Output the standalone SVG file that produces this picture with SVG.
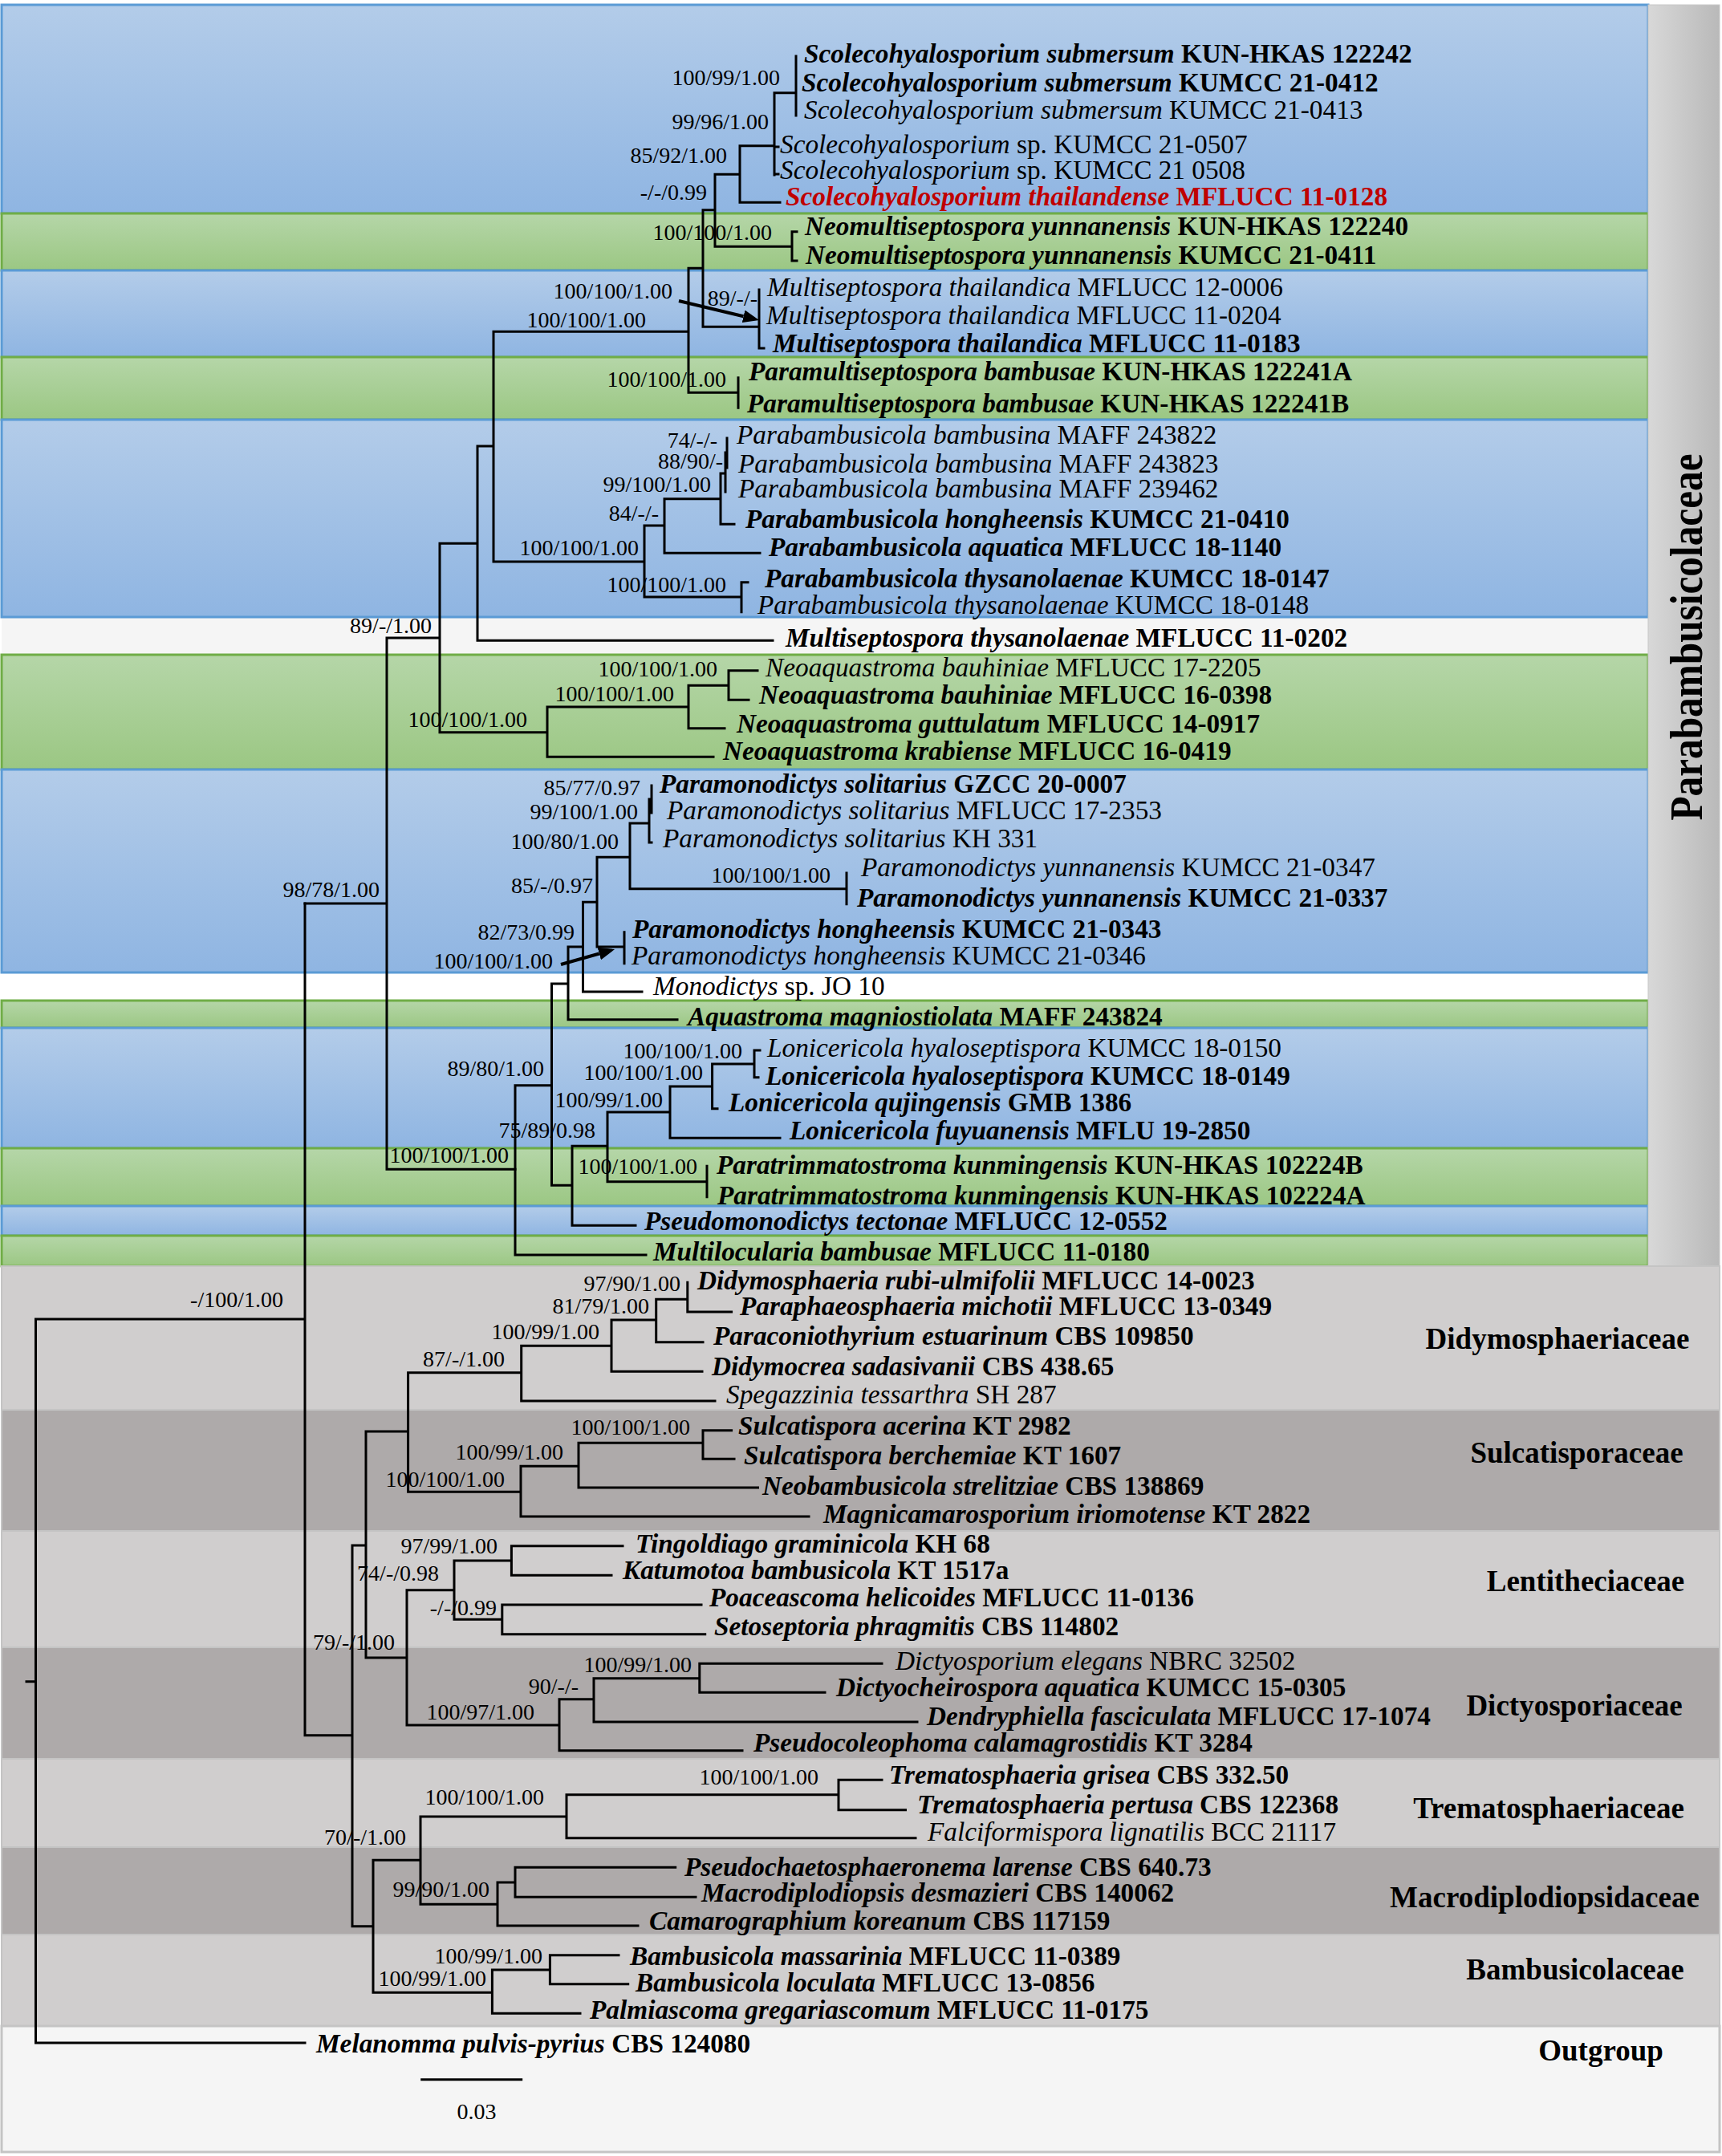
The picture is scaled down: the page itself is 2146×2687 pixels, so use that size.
<svg xmlns="http://www.w3.org/2000/svg" width="2146" height="2687" viewBox="0 0 2146 2687">
<style>
.tx{font-family:"Liberation Serif","Times New Roman",serif;font-size:33.3px;fill:#000}
.b{font-weight:bold}
.i{font-style:italic}
.red{fill:#c00000}
.sp{font-family:"Liberation Serif","Times New Roman",serif;font-size:28px;fill:#000;text-anchor:end}
.fam{font-family:"Liberation Serif","Times New Roman",serif;font-size:37px;font-weight:bold;fill:#000;text-anchor:middle}
.blue{fill:url(#gBlue);stroke:#5b9bd5;stroke-width:3}
.green{fill:url(#gGreen);stroke:#70ad47;stroke-width:3}
.lg{fill:#d0cece;stroke:#c4c4c4;stroke-width:2}
.dg{fill:#aeaaaa;stroke:#c4c4c4;stroke-width:2}
.br{fill:none;stroke:#000;stroke-width:3;stroke-linecap:square}
.arr{stroke:#000;stroke-width:4;marker-end:url(#ah)}
</style>
<defs>
<linearGradient id="gBlue" x1="0" y1="0" x2="0" y2="1"><stop offset="0" stop-color="#b3cce9"/><stop offset="1" stop-color="#8fb5e2"/></linearGradient>
<linearGradient id="gGreen" x1="0" y1="0" x2="0" y2="1"><stop offset="0" stop-color="#b5d6a8"/><stop offset="1" stop-color="#9bc783"/></linearGradient>
<linearGradient id="gSide" x1="0" y1="0" x2="1" y2="0"><stop offset="0" stop-color="#d8d8d8"/><stop offset="1" stop-color="#b9b9b9"/></linearGradient>
<marker id="ah" viewBox="0 0 5 4" refX="0" refY="2" markerWidth="5" markerHeight="4" orient="auto" markerUnits="strokeWidth"><path d="M0,0 L5,2 L0,4 z" fill="#000"/></marker>
</defs>
<rect width="2146" height="2687" fill="#fff"/>
<g id="bands">
<rect x="2" y="769" width="2052" height="47" fill="#f5f5f5"/>
<rect x="2" y="1212" width="2052" height="35" fill="#ffffff"/>
<rect class="blue" x="2" y="6" width="2052" height="260"/>
<rect class="green" x="2" y="266" width="2052" height="71"/>
<rect class="blue" x="2" y="337" width="2052" height="108"/>
<rect class="green" x="2" y="445" width="2052" height="78"/>
<rect class="blue" x="2" y="523" width="2052" height="246"/>
<rect class="green" x="2" y="816" width="2052" height="143"/>
<rect class="blue" x="2" y="959" width="2052" height="253"/>
<rect class="green" x="2" y="1247" width="2052" height="34"/>
<rect class="blue" x="2" y="1281" width="2052" height="150"/>
<rect class="green" x="2" y="1431" width="2052" height="72"/>
<rect class="blue" x="2" y="1503" width="2052" height="37"/>
<rect class="green" x="2" y="1540" width="2052" height="38"/>
<rect x="2054" y="6" width="89" height="1572" fill="url(#gSide)" stroke="#c8c8c8" stroke-width="1"/>
<rect class="lg" x="2" y="1578" width="2141" height="179"/>
<rect class="dg" x="2" y="1757" width="2141" height="151"/>
<rect class="lg" x="2" y="1908" width="2141" height="145"/>
<rect class="dg" x="2" y="2053" width="2141" height="139"/>
<rect class="lg" x="2" y="2192" width="2141" height="110"/>
<rect class="dg" x="2" y="2302" width="2141" height="109"/>
<rect class="lg" x="2" y="2411" width="2141" height="114"/>
<rect x="2" y="2525" width="2141" height="157" fill="#f5f5f5" stroke="#c4c4c4" stroke-width="3"/>
</g>
<g id="connectors">
<path class="br" d="M992,70 V144 M965,115.7 H992 M965,115.7 V218 M965,183 H970 M965,217 H970 M922,181.7 H965 M922,181.7 V252.3 M922,252.3 H972 M891,217.3 H922 M891,217.3 V307.3 M891,307.3 H987 M987,288.7 V325 M987,288.7 H993 M987,325 H993 M876,261.7 H891 M876,261.7 V407.3 M876,407.3 H946 M946,361 V434 M946,434 H952 M858,334.3 H876 M858,334.3 V489.3 M858,489.3 H920 M920,470.7 V508.3 M615,413.3 H858 M615,413.3 V700 M615,700 H803 M803,655 V744 M803,655 H828 M828,621.7 V689.3 M828,621.7 H898 M898,590 V653.3 M898,653.3 H915 M898,590 H904 M904,564 V613 M904,564 H906 M906,546 V583 M828,689.3 H947 M803,744 H924 M924,725.7 V762.7 M924,725.7 H932 M595,556 H615 M595,556 V798.3 M595,798.3 H963 M548,677.3 H595 M548,677.3 V912.7 M548,912.7 H682 M682,881 V943.3 M682,881 H858 M682,943.3 H889 M858,854.3 V907.7 M858,854.3 H908 M858,907.7 H903 M908,835.7 V872.3 M908,835.7 H944 M908,872.3 H933 M482,795 H548 M482,795 V1457.3 M380,1126 H482 M482,1457.3 H642"/>
<path class="br" d="M642,1352.7 V1564 M642,1564 H805 M642,1352.7 H687.5 M687.5,1226 V1477.3 M687.5,1226 H708 M708,1180 V1270.7 M708,1270.7 H844 M708,1180 H726.5 M726.5,1124.3 V1236 M726.5,1236 H800 M726.5,1124.3 H744 M744,1068.3 V1180 M744,1180 H778 M778,1161.7 V1200.7 M744,1068.3 H785 M785,1026 V1107.7 M785,1107.7 H1055 M1055,1088 V1126.7 M785,1026 H809 M809,996 V1050 M809,1050 H812 M809,996 H812 M812,979 V1013 M687.5,1477.3 H713 M713,1428.3 V1527.3 M713,1527.3 H792 M713,1428.3 H757 M757,1386 V1472.7 M757,1472.7 H881 M881,1453.3 V1491.7 M757,1386 H835 M835,1354 V1418.3 M835,1418.3 H972 M835,1354 H887.6 M887.6,1326 V1381.7 M887.6,1381.7 H894 M887.6,1326 H940 M940,1309 V1342.7 M940,1309 H947 M940,1342.7 H945"/>
<path class="br" d="M33,2095.7 H44.5 M44.5,1644 V2546 M44.5,1644 H380 M44.5,2546 H380 M380,1126 V2162.7 M380,2162.7 H439 M439,1926 V2400.7 M439,1926 H456 M439,2400.7 H465 M456,1784 V2066 M456,1784 H508.6 M456,2066 H507 M508.6,1710.7 V1859.3 M508.6,1710.7 H649.7 M508.6,1859.3 H649 M649.7,1677.3 V1746 M649.7,1677.3 H762 M649.7,1746 H891 M762,1645 V1709.3 M762,1645 H817.7 M762,1709.3 H875 M817.7,1619.3 V1672.7 M817.7,1619.3 H856.8 M817.7,1672.7 H876 M856.8,1598.3 V1635 M856.8,1635 H911.6 M649,1827.3 V1890 M649,1827.3 H721 M649,1890 H1008 M721,1798.3 V1854 M721,1798.3 H876 M721,1854 H944.5 M876,1782.7 V1818.3 M876,1782.7 H911.6 M876,1818.3 H915 M507,1981.7 V2150 M507,1981.7 H566 M507,2150 H697 M566,1945 V2018.3 M566,1945 H637.4 M566,2018.3 H625.8 M637.4,1926.7 V1963.3 M637.4,1926.7 H776 M637.4,1963.3 H762 M625.8,2000 V2036.7 M625.8,2000 H874 M625.8,2036.7 H878.7 M697,2117.7 V2181.7 M697,2117.7 H740 M697,2181.7 H925 M740,2091.7 V2146 M740,2091.7 H871.8 M740,2146 H1143 M871.8,2073.3 V2109.3 M871.8,2073.3 H1099 M871.8,2109.3 H1028 M465,2318.3 V2483.3 M465,2318.3 H524 M465,2483.3 H613.4 M524,2264 V2373.3 M524,2264 H706 M524,2373.3 H620 M706,2236.7 V2290.7 M706,2236.7 H1045 M706,2290.7 H1141 M1045,2218.3 V2255.7 M1045,2218.3 H1099 M1045,2255.7 H1128.5 M620,2346 V2400 M620,2346 H642 M620,2400 H795 M642,2327.3 V2364.3 M642,2327.3 H841.7 M642,2364.3 H867 M613.4,2455 V2509.3 M613.4,2455 H685.4 M613.4,2509.3 H723 M685.4,2436.7 V2472.7 M685.4,2436.7 H771 M685.4,2472.7 H782.7"/>
<line class="arr" x1="846" y1="375" x2="926.6" y2="394.3"/>
<line class="arr" x1="699" y1="1202" x2="746.8" y2="1188.5"/>
<path class="br" d="M525.7,2591.7 H649.7"/>
</g>
<g id="taxa">
<g id="t01"><text class="tx b" x="1002" y="78"><tspan class="i">Scolecohyalosporium submersum</tspan> KUN-HKAS 122242</text></g>
<g id="t02"><text class="tx b" x="999" y="114"><tspan class="i">Scolecohyalosporium submersum</tspan> KUMCC 21-0412</text></g>
<g id="t03"><text class="tx" x="1002" y="148"><tspan class="i">Scolecohyalosporium submersum</tspan> KUMCC 21-0413</text></g>
<g id="t04"><text class="tx" x="972" y="191"><tspan class="i">Scolecohyalosporium</tspan> sp. KUMCC 21-0507</text></g>
<g id="t05"><text class="tx" x="972" y="223"><tspan class="i">Scolecohyalosporium</tspan> sp. KUMCC 21 0508</text></g>
<g id="t06"><text class="tx b red" x="979" y="256"><tspan class="i">Scolecohyalosporium thailandense</tspan> MFLUCC 11-0128</text></g>
<g id="t07"><text class="tx b" x="1003" y="293"><tspan class="i">Neomultiseptospora yunnanensis</tspan> KUN-HKAS 122240</text></g>
<g id="t08"><text class="tx b" x="1004" y="329"><tspan class="i">Neomultiseptospora yunnanensis</tspan> KUMCC 21-0411</text></g>
<g id="t09"><text class="tx" x="956" y="369"><tspan class="i">Multiseptospora thailandica</tspan> MFLUCC 12-0006</text></g>
<g id="t10"><text class="tx" x="955" y="404"><tspan class="i">Multiseptospora thailandica</tspan> MFLUCC 11-0204</text></g>
<g id="t11"><text class="tx b" x="963" y="439"><tspan class="i">Multiseptospora thailandica</tspan> MFLUCC 11-0183</text></g>
<g id="t12"><text class="tx b" x="933" y="474"><tspan class="i">Paramultiseptospora bambusae</tspan> KUN-HKAS 122241A</text></g>
<g id="t13"><text class="tx b" x="931" y="514"><tspan class="i">Paramultiseptospora bambusae</tspan> KUN-HKAS 122241B</text></g>
<g id="t14"><text class="tx" x="918" y="553"><tspan class="i">Parabambusicola bambusina</tspan> MAFF 243822</text></g>
<g id="t15"><text class="tx" x="920" y="589"><tspan class="i">Parabambusicola bambusina</tspan> MAFF 243823</text></g>
<g id="t16"><text class="tx" x="920" y="620"><tspan class="i">Parabambusicola bambusina</tspan> MAFF 239462</text></g>
<g id="t17"><text class="tx b" x="929" y="658"><tspan class="i">Parabambusicola hongheensis</tspan> KUMCC 21-0410</text></g>
<g id="t18"><text class="tx b" x="958" y="693"><tspan class="i">Parabambusicola aquatica</tspan> MFLUCC 18-1140</text></g>
<g id="t19"><text class="tx b" x="953" y="732"><tspan class="i">Parabambusicola thysanolaenae</tspan> KUMCC 18-0147</text></g>
<g id="t20"><text class="tx" x="944" y="765"><tspan class="i">Parabambusicola thysanolaenae</tspan> KUMCC 18-0148</text></g>
<g id="t21"><text class="tx b" x="979" y="806"><tspan class="i">Multiseptospora thysanolaenae</tspan> MFLUCC 11-0202</text></g>
<g id="t22"><text class="tx" x="954" y="843"><tspan class="i">Neoaquastroma bauhiniae</tspan> MFLUCC 17-2205</text></g>
<g id="t23"><text class="tx b" x="946" y="877"><tspan class="i">Neoaquastroma bauhiniae</tspan> MFLUCC 16-0398</text></g>
<g id="t24"><text class="tx b" x="918" y="913"><tspan class="i">Neoaquastroma guttulatum</tspan> MFLUCC 14-0917</text></g>
<g id="t25"><text class="tx b" x="901" y="947"><tspan class="i">Neoaquastroma krabiense</tspan> MFLUCC 16-0419</text></g>
<g id="t26"><text class="tx b" x="822" y="988"><tspan class="i">Paramonodictys solitarius</tspan> GZCC 20-0007</text></g>
<g id="t27"><text class="tx" x="831" y="1021"><tspan class="i">Paramonodictys solitarius</tspan> MFLUCC 17-2353</text></g>
<g id="t28"><text class="tx" x="826" y="1056"><tspan class="i">Paramonodictys solitarius</tspan> KH 331</text></g>
<g id="t29"><text class="tx" x="1073" y="1092"><tspan class="i">Paramonodictys yunnanensis</tspan> KUMCC 21-0347</text></g>
<g id="t30"><text class="tx b" x="1068" y="1130"><tspan class="i">Paramonodictys yunnanensis</tspan> KUMCC 21-0337</text></g>
<g id="t31"><text class="tx b" x="788" y="1169"><tspan class="i">Paramonodictys hongheensis</tspan> KUMCC 21-0343</text></g>
<g id="t32"><text class="tx" x="787" y="1202"><tspan class="i">Paramonodictys hongheensis</tspan> KUMCC 21-0346</text></g>
<g id="t33"><text class="tx" x="814" y="1240"><tspan class="i">Monodictys</tspan> sp. JO 10</text></g>
<g id="t34"><text class="tx b" x="857" y="1278"><tspan class="i">Aquastroma magniostiolata</tspan> MAFF 243824</text></g>
<g id="t35"><text class="tx" x="956" y="1317"><tspan class="i">Lonicericola hyaloseptispora</tspan> KUMCC 18-0150</text></g>
<g id="t36"><text class="tx b" x="954" y="1352"><tspan class="i">Lonicericola hyaloseptispora</tspan> KUMCC 18-0149</text></g>
<g id="t37"><text class="tx b" x="908" y="1385"><tspan class="i">Lonicericola qujingensis</tspan> GMB 1386</text></g>
<g id="t38"><text class="tx b" x="984" y="1420"><tspan class="i">Lonicericola fuyuanensis</tspan> MFLU 19-2850</text></g>
<g id="t39"><text class="tx b" x="893" y="1463"><tspan class="i">Paratrimmatostroma kunmingensis</tspan> KUN-HKAS 102224B</text></g>
<g id="t40"><text class="tx b" x="894" y="1501"><tspan class="i">Paratrimmatostroma kunmingensis</tspan> KUN-HKAS 102224A</text></g>
<g id="t41"><text class="tx b" x="803" y="1533"><tspan class="i">Pseudomonodictys tectonae</tspan> MFLUCC 12-0552</text></g>
<g id="t42"><text class="tx b" x="814" y="1571"><tspan class="i">Multilocularia bambusae</tspan> MFLUCC 11-0180</text></g>
<g id="t43"><text class="tx b" x="869" y="1607"><tspan class="i">Didymosphaeria rubi-ulmifolii</tspan> MFLUCC 14-0023</text></g>
<g id="t44"><text class="tx b" x="922" y="1639"><tspan class="i">Paraphaeosphaeria michotii</tspan> MFLUCC 13-0349</text></g>
<g id="t45"><text class="tx b" x="889" y="1676"><tspan class="i">Paraconiothyrium estuarinum</tspan> CBS 109850</text></g>
<g id="t46"><text class="tx b" x="887" y="1714"><tspan class="i">Didymocrea sadasivanii</tspan> CBS 438.65</text></g>
<g id="t47"><text class="tx" x="905" y="1749"><tspan class="i">Spegazzinia tessarthra</tspan> SH 287</text></g>
<g id="t48"><text class="tx b" x="920" y="1788"><tspan class="i">Sulcatispora acerina</tspan> KT 2982</text></g>
<g id="t49"><text class="tx b" x="927" y="1825"><tspan class="i">Sulcatispora berchemiae</tspan> KT 1607</text></g>
<g id="t50"><text class="tx b" x="950" y="1863"><tspan class="i">Neobambusicola strelitziae</tspan> CBS 138869</text></g>
<g id="t51"><text class="tx b" x="1026" y="1898"><tspan class="i">Magnicamarosporium iriomotense</tspan> KT 2822</text></g>
<g id="t52"><text class="tx b" x="792" y="1935"><tspan class="i">Tingoldiago graminicola</tspan> KH 68</text></g>
<g id="t53"><text class="tx b" x="776" y="1968"><tspan class="i">Katumotoa bambusicola</tspan> KT 1517a</text></g>
<g id="t54"><text class="tx b" x="884" y="2002"><tspan class="i">Poaceascoma helicoides</tspan> MFLUCC 11-0136</text></g>
<g id="t55"><text class="tx b" x="890" y="2038"><tspan class="i">Setoseptoria phragmitis</tspan> CBS 114802</text></g>
<g id="t56"><text class="tx" x="1116" y="2081"><tspan class="i">Dictyosporium elegans</tspan> NBRC 32502</text></g>
<g id="t57"><text class="tx b" x="1042" y="2114"><tspan class="i">Dictyocheirospora aquatica</tspan> KUMCC 15-0305</text></g>
<g id="t58"><text class="tx b" x="1155" y="2150"><tspan class="i">Dendryphiella fasciculata</tspan> MFLUCC 17-1074</text></g>
<g id="t59"><text class="tx b" x="939" y="2183"><tspan class="i">Pseudocoleophoma calamagrostidis</tspan> KT 3284</text></g>
<g id="t60"><text class="tx b" x="1108" y="2223"><tspan class="i">Trematosphaeria grisea</tspan> CBS 332.50</text></g>
<g id="t61"><text class="tx b" x="1143" y="2260"><tspan class="i">Trematosphaeria pertusa</tspan> CBS 122368</text></g>
<g id="t62"><text class="tx" x="1156" y="2294"><tspan class="i">Falciformispora lignatilis</tspan> BCC 21117</text></g>
<g id="t63"><text class="tx b" x="853" y="2338"><tspan class="i">Pseudochaetosphaeronema larense</tspan> CBS 640.73</text></g>
<g id="t64"><text class="tx b" x="874" y="2370"><tspan class="i">Macrodiplodiopsis desmazieri</tspan> CBS 140062</text></g>
<g id="t65"><text class="tx b" x="809" y="2405"><tspan class="i">Camarographium koreanum</tspan> CBS 117159</text></g>
<g id="t66"><text class="tx b" x="785" y="2449"><tspan class="i">Bambusicola massarinia</tspan> MFLUCC 11-0389</text></g>
<g id="t67"><text class="tx b" x="792" y="2482"><tspan class="i">Bambusicola loculata</tspan> MFLUCC 13-0856</text></g>
<g id="t68"><text class="tx b" x="735" y="2516"><tspan class="i">Palmiascoma gregariascomum</tspan> MFLUCC 11-0175</text></g>
<g id="t69"><text class="tx b" x="394" y="2558"><tspan class="i">Melanomma pulvis-pyrius</tspan> CBS 124080</text></g>
</g>
<g id="supports">
<text class="sp" x="972" y="106">100/99/1.00</text>
<text class="sp" x="958" y="161">99/96/1.00</text>
<text class="sp" x="906" y="203">85/92/1.00</text>
<text class="sp" x="881" y="249">-/-/0.99</text>
<text class="sp" x="962" y="299">100/100/1.00</text>
<text class="sp" x="944" y="381">89/-/-</text>
<text class="sp" x="838" y="372">100/100/1.00</text>
<text class="sp" x="805" y="408">100/100/1.00</text>
<text class="sp" x="905" y="482">100/100/1.00</text>
<text class="sp" x="894" y="558">74/-/-</text>
<text class="sp" x="901" y="584">88/90/-</text>
<text class="sp" x="886" y="613">99/100/1.00</text>
<text class="sp" x="821" y="649">84/-/-</text>
<text class="sp" x="796" y="692">100/100/1.00</text>
<text class="sp" x="905" y="738">100/100/1.00</text>
<text class="sp" x="538" y="789">89/-/1.00</text>
<text class="sp" x="894" y="843">100/100/1.00</text>
<text class="sp" x="840" y="874">100/100/1.00</text>
<text class="sp" x="657" y="906">100/100/1.00</text>
<text class="sp" x="798" y="991">85/77/0.97</text>
<text class="sp" x="795" y="1021">99/100/1.00</text>
<text class="sp" x="771" y="1058">100/80/1.00</text>
<text class="sp" x="1035" y="1100">100/100/1.00</text>
<text class="sp" x="739" y="1113">85/-/0.97</text>
<text class="sp" x="716" y="1171">82/73/0.99</text>
<text class="sp" x="689" y="1207">100/100/1.00</text>
<text class="sp" x="473" y="1118">98/78/1.00</text>
<text class="sp" x="925" y="1319">100/100/1.00</text>
<text class="sp" x="678" y="1341">89/80/1.00</text>
<text class="sp" x="876" y="1346">100/100/1.00</text>
<text class="sp" x="826" y="1380">100/99/1.00</text>
<text class="sp" x="742" y="1418">75/89/0.98</text>
<text class="sp" x="634" y="1449">100/100/1.00</text>
<text class="sp" x="869" y="1463">100/100/1.00</text>
<text class="sp" x="353" y="1629">-/100/1.00</text>
<text class="sp" x="848" y="1609">97/90/1.00</text>
<text class="sp" x="809" y="1637">81/79/1.00</text>
<text class="sp" x="747" y="1669">100/99/1.00</text>
<text class="sp" x="629" y="1703">87/-/1.00</text>
<text class="sp" x="860" y="1788">100/100/1.00</text>
<text class="sp" x="702" y="1819">100/99/1.00</text>
<text class="sp" x="629" y="1853">100/100/1.00</text>
<text class="sp" x="620" y="1936">97/99/1.00</text>
<text class="sp" x="547" y="1970">74/-/0.98</text>
<text class="sp" x="619" y="2013">-/-/0.99</text>
<text class="sp" x="492" y="2056">79/-/1.00</text>
<text class="sp" x="862" y="2084">100/99/1.00</text>
<text class="sp" x="721" y="2111">90/-/-</text>
<text class="sp" x="666" y="2143">100/97/1.00</text>
<text class="sp" x="1020" y="2224">100/100/1.00</text>
<text class="sp" x="678" y="2249">100/100/1.00</text>
<text class="sp" x="506" y="2299">70/-/1.00</text>
<text class="sp" x="610" y="2364">99/90/1.00</text>
<text class="sp" x="676" y="2447">100/99/1.00</text>
<text class="sp" x="606" y="2475">100/99/1.00</text>
<text class="sp" x="594" y="2641" style="text-anchor:middle">0.03</text>
</g>
<g id="families">
<g id="fam-parabambusicolaceae"><text class="fam" textLength="457" lengthAdjust="spacingAndGlyphs" transform="translate(2121,794) rotate(-90)" style="font-size:56px">Parabambusicolaceae</text></g>
<g id="fam-didymosphaeriaceae"><text class="fam" x="1941" y="1681">Didymosphaeriaceae</text></g>
<g id="fam-sulcatisporaceae"><text class="fam" x="1965" y="1823">Sulcatisporaceae</text></g>
<g id="fam-lentitheciaceae"><text class="fam" x="1976" y="1983">Lentitheciaceae</text></g>
<g id="fam-dictyosporiaceae"><text class="fam" x="1962" y="2138">Dictyosporiaceae</text></g>
<g id="fam-trematosphaeriaceae"><text class="fam" x="1930" y="2266">Trematosphaeriaceae</text></g>
<g id="fam-macrodiplodiopsidaceae"><text class="fam" x="1925" y="2377">Macrodiplodiopsidaceae</text></g>
<g id="fam-bambusicolaceae"><text class="fam" x="1963" y="2467">Bambusicolaceae</text></g>
<g id="fam-outgroup"><text class="fam" x="1995" y="2568">Outgroup</text></g>
</g>
</svg>
